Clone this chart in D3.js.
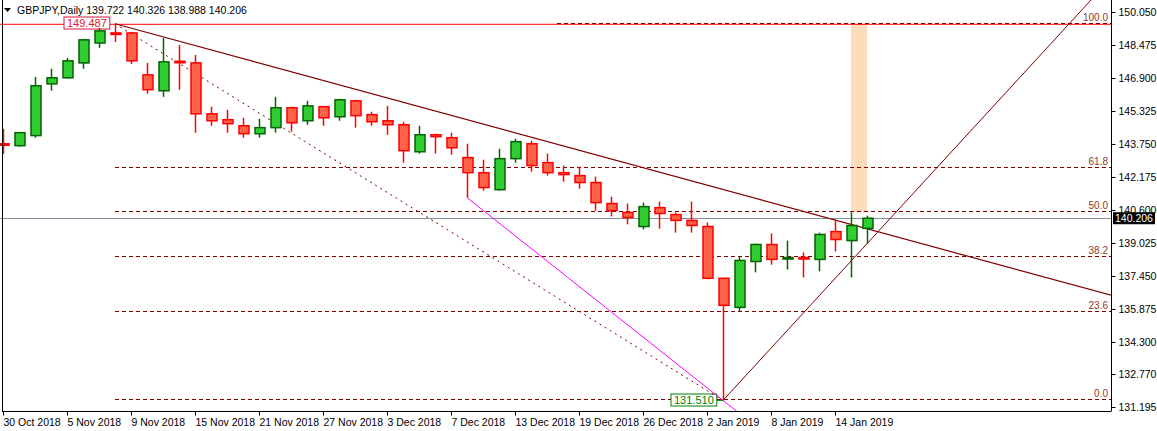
<!DOCTYPE html>
<html>
<head>
<meta charset="utf-8">
<script src="https://cdn.jsdelivr.net/npm/d3@7"></script>
<style>
  body { margin: 0; background: #fff; }
  svg { display: block; font-family: "Liberation Sans", Arial, sans-serif; }
</style>
</head>
<body>
<svg id="chart" width="1157" height="431"></svg>
<script>
// GBPJPY daily candles, 30 Oct 2018 .. 16 Jan 2019
var opens  = [143.76,143.67,144.15,146.62,146.91,147.62,148.57,149.05,149.05,147.05,146.29,147.70,147.62,145.19,144.91,144.62,144.24,144.53,145.48,144.86,145.53,145.05,145.81,145.15,144.86,144.67,143.38,144.19,144.05,143.10,142.38,141.57,143.05,143.76,142.86,142.38,142.24,141.91,140.91,140.48,139.81,140.71,140.38,140.10,139.81,137.34,135.95,138.14,138.95,138.29,138.33,138.24,139.57,139.14,139.722];
var highs  = [144.47,144.29,146.95,147.34,147.86,148.76,149.29,149.487,149.10,147.62,148.81,148.48,148.00,145.53,145.38,145.00,144.95,146.00,145.53,145.81,145.57,145.91,145.86,145.29,145.57,144.81,144.62,144.24,144.29,143.76,143.00,143.52,144.00,143.91,143.29,142.72,142.67,142.19,141.24,140.91,140.95,141.00,140.48,141.00,140.00,137.34,138.38,139.00,139.48,139.14,138.57,139.52,140.14,140.48,140.326];
var lows   = [143.28,143.62,144.05,146.29,146.86,147.34,148.34,148.62,147.57,146.15,146.00,146.34,144.29,144.62,144.29,144.05,144.05,144.29,144.34,144.67,144.62,144.86,144.53,144.62,144.19,142.86,143.29,143.29,143.24,141.19,141.52,141.52,142.86,142.43,142.24,141.95,141.62,140.57,140.29,139.91,139.67,139.71,139.52,139.52,137.29,131.51,135.76,137.62,137.99,137.76,137.38,137.67,138.62,137.38,138.988];
var closes = [143.72,144.29,146.53,146.91,147.72,148.72,149.15,148.98,147.72,146.34,147.67,147.64,145.19,144.86,144.72,144.24,144.53,145.48,144.76,145.57,145.00,145.86,145.10,144.81,144.67,143.43,144.19,144.10,143.57,142.38,141.67,143.05,143.86,142.72,142.38,142.29,141.91,140.95,140.57,140.24,140.76,140.43,140.10,139.86,137.34,136.05,138.19,138.95,138.24,138.33,138.29,139.43,139.19,139.86,140.206];
var tickLabels = ["30 Oct 2018","5 Nov 2018","9 Nov 2018","15 Nov 2018","21 Nov 2018","27 Nov 2018","3 Dec 2018","7 Dec 2018","13 Dec 2018","19 Dec 2018","26 Dec 2018","2 Jan 2019","8 Jan 2019","14 Jan 2019"];
var priceTicks = [150.050,148.475,146.900,145.325,143.750,142.175,140.600,139.025,137.450,135.875,134.300,132.770,131.195];
var fiboLevels = [0, 23.6, 38.2, 50.0, 61.8, 100.0];
var fiboHigh = 149.487, fiboLow = 131.510;
var lastPrice = 140.206;

var svg = d3.select('#chart');
var plotR = 1111, plotB = 411;
var x = d3.scaleLinear().domain([0, 54]).range([3, 867]);
var y = d3.scaleLinear().domain([131.195, 150.05]).range([407, 12]);
var darkRed = '#800000';

var clip = svg.append('clipPath').attr('id', 'plot')
    .append('rect').attr('x', 0).attr('y', 0).attr('width', plotR).attr('height', plotB);
var g = svg.append('g').attr('clip-path', 'url(#plot)');

// fibo rectangle highlight
g.append('rect')
    .attr('x', x(53)).attr('width', x(54) - x(53))
    .attr('y', y(fiboHigh)).attr('height', y(highs[53]) - y(fiboHigh))
    .attr('fill', '#fddcbc');

// last price line
g.append('line').attr('x1', 0).attr('x2', plotR)
    .attr('y1', Math.round(y(lastPrice)) + 0.5).attr('y2', Math.round(y(lastPrice)) + 0.5)
    .attr('stroke', '#8090a0');

// high horizontal red line
g.append('line').attr('x1', 0).attr('x2', plotR)
    .attr('y1', y(fiboHigh) + 0.5).attr('y2', y(fiboHigh) + 0.5)
    .attr('stroke', '#ff0000');

// fibo levels
fiboLevels.forEach(function (lv) {
    var p = fiboLow + (fiboHigh - fiboLow) * lv / 100;
    var yy = Math.round(y(p)) - 0.5;
    g.append('line')
        .attr('x1', lv === 100 ? 557 : x(7)).attr('x2', plotR)
        .attr('y1', yy).attr('y2', yy)
        .attr('stroke', darkRed).attr('stroke-dasharray', '4,3');
    g.append('text').attr('x', plotR - 3).attr('y', yy - 3)
        .attr('text-anchor', 'end').attr('font-size', 10).attr('fill', '#8b3a2a')
        .text(lv.toFixed(1));
});

// dashed line from high to low
g.append('line')
    .attr('x1', x(7)).attr('y1', y(fiboHigh)).attr('x2', x(45)).attr('y2', y(fiboLow))
    .attr('stroke', darkRed).attr('stroke-dasharray', '2,4');

// magenta line
var mSlope = (lows[45] - lows[29]) / (45 - 29);
g.append('line')
    .attr('x1', x(29)).attr('y1', y(lows[29]))
    .attr('x2', x(46)).attr('y2', y(lows[29] + mSlope * (46 - 29)))
    .attr('stroke', '#ff00ff');

// descending trend line
var dSlope = (136.53 - fiboHigh) / ((plotR - 3) / 16 - 7);
g.append('line')
    .attr('x1', x(7)).attr('y1', y(fiboHigh))
    .attr('x2', x(70)).attr('y2', y(fiboHigh + dSlope * 63))
    .attr('stroke', darkRed).attr('stroke-width', 1.2);

// ascending trend line
var uSlope = 0.831;
g.append('line')
    .attr('x1', x(45)).attr('y1', y(fiboLow))
    .attr('x2', x(70)).attr('y2', y(fiboLow + uSlope * 25))
    .attr('stroke', darkRed);

// candles
var idx = d3.range(opens.length);
var c = g.selectAll('.candle').data(idx).enter().append('g').attr('class', 'candle');
c.append('line')
    .attr('x1', function (i) { return Math.round(x(i)) + 0.5; })
    .attr('x2', function (i) { return Math.round(x(i)) + 0.5; })
    .attr('y1', function (i) { return y(highs[i]); })
    .attr('y2', function (i) { return y(lows[i]); })
    .attr('stroke', function (i) { return closes[i] >= opens[i] ? '#006400' : '#ff0000'; })
    .attr('stroke-width', 1.5);
c.append('rect')
    .attr('x', function (i) { return Math.round(x(i)) - 4; })
    .attr('width', 10)
    .attr('y', function (i) { return y(Math.max(opens[i], closes[i])); })
    .attr('height', function (i) { return Math.max(1.5, Math.abs(y(opens[i]) - y(closes[i]))); })
    .attr('fill', function (i) { return closes[i] >= opens[i] ? '#32cd32' : '#ff6347'; })
    .attr('stroke', function (i) { return closes[i] >= opens[i] ? '#006400' : '#ff0000'; })
    .attr('stroke-width', 1.5);

// price labels for high and low
function priceBox(txt, bx, by, color) {
    var t = g.append('text').attr('x', bx + 3).attr('y', by + 10).attr('font-size', 11)
        .attr('fill', color).text(txt);
    var w = t.node().getComputedTextLength();
    g.insert('rect', 'text').attr('x', bx).attr('y', by).attr('width', w + 6).attr('height', 12)
        .attr('fill', '#fff').attr('stroke', color);
    return w + 6;
}
var hw = priceBox(fiboHigh.toFixed(3), 64, 17, '#dc143c');
var lw = priceBox(fiboLow.toFixed(3), 671, Math.round(y(fiboLow)) - 6, '#008000');
g.append('line').attr('x1', 671 + lw).attr('x2', x(45)).attr('y1', y(fiboLow)).attr('y2', y(fiboLow))
    .attr('stroke', '#008000');

// axes
var yAxis = d3.axisRight(y).tickValues(priceTicks).tickFormat(d3.format('.3f')).tickSize(4);
var ya = svg.append('g').attr('transform', 'translate(' + (plotR + 0.5) + ',0)').call(yAxis);
ya.select('.domain').attr('d', 'M0,0V' + plotB);
ya.selectAll('text').attr('font-size', 10.5).attr('fill', '#000').attr('font-family', '"Liberation Sans", Arial');

var xTicks = d3.range(0, 55, 4);
var xAxis = d3.axisBottom(x).tickValues(xTicks).tickFormat(function (d, i) { return tickLabels[i]; }).tickSize(4);
var xa = svg.append('g').attr('transform', 'translate(0,' + (plotB + 0.5) + ')').call(xAxis);
xa.select('.domain').attr('d', 'M2,0H' + (plotR + 0.5));
xa.selectAll('text').attr('font-size', 10.5).attr('fill', '#000').attr('text-anchor', 'start')
    .attr('dx', 0).attr('font-family', '"Liberation Sans", Arial');

// left border
svg.append('line').attr('x1', 2.5).attr('x2', 2.5).attr('y1', 0).attr('y2', plotB).attr('stroke', '#000');

// last price tag
var ly = y(lastPrice);
svg.append('rect').attr('x', plotR + 2).attr('y', ly - 6).attr('width', 42).attr('height', 12).attr('fill', '#000');
svg.append('text').attr('x', plotR + 4).attr('y', ly + 4).attr('font-size', 10.5).attr('fill', '#fff')
    .text(lastPrice.toFixed(3));

// header
svg.append('path').attr('d', 'M4,8 L11,8 L7.5,12 Z').attr('fill', '#000');
svg.append('text').attr('x', 17).attr('y', 14).attr('font-size', 10.5).attr('fill', '#000')
    .text('GBPJPY,Daily  ' + [opens[54], highs[54], lows[54], closes[54]].map(function (v) { return v.toFixed(3); }).join(' '));
</script>
</body>
</html>
